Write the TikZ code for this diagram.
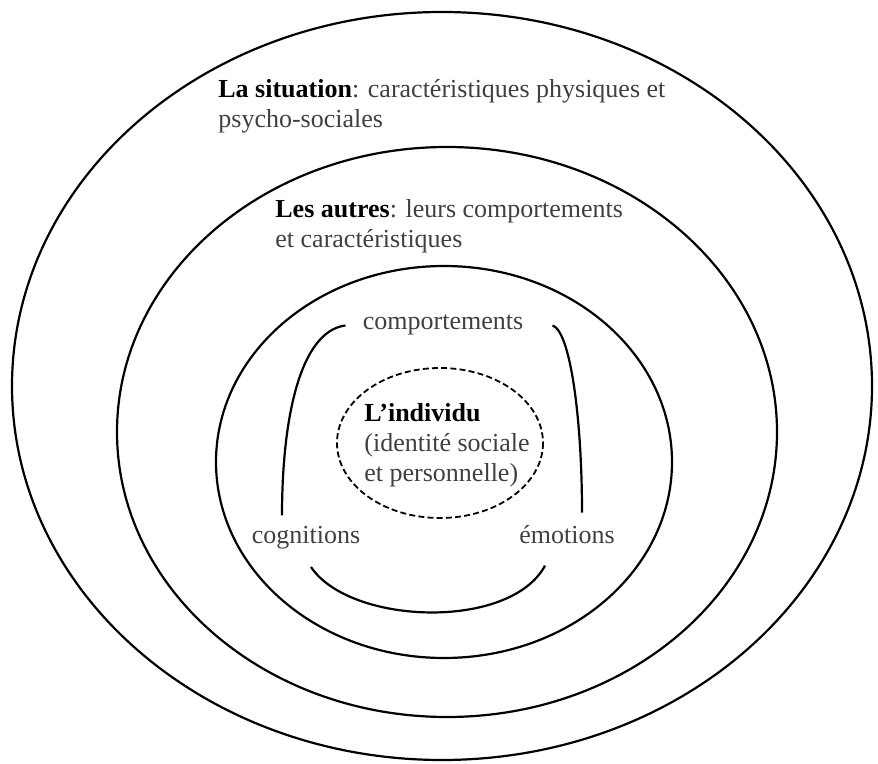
\documentclass[tikz,border=0pt]{standalone}
\usepackage{fontspec}
\setmainfont{Liberation Serif}
\usetikzlibrary{shapes.geometric,calc}

\begin{document}
\begin{tikzpicture}[x=0.5pt,y=-0.5pt,
  ring/.style={line width=1.1pt},
  lbl/.style={inner sep=0pt,align=left,text=black!75,font=\fontsize{13}{15}\selectfont}]
\useasboundingbox (0,0) rectangle (878,764);
\draw[ring] (442,386) ellipse [x radius=430,y radius=374];
\draw[ring] (447,432) ellipse [x radius=330,y radius=285];
\draw[ring] (444,462) ellipse [x radius=228,y radius=196];
\draw[line width=0.9pt,dash pattern=on 3pt off 1.6pt] (440,443) ellipse [x radius=103,y radius=75];
\node[lbl,anchor=base west] (sit) at (218,128) {\textcolor{black}{\bfseries La situation}: caractéristiques physiques et\\psycho-sociales};
\node[lbl,anchor=base west] (autres) at (275,248) {\textcolor{black}{\bfseries Les autres}: leurs comportements\\et caractéristiques};
\node[lbl,anchor=base west] (indiv) at (364,481) {\textcolor{black}{\bfseries L’individu}\\(identité sociale\\et personnelle)};
\node[lbl,anchor=base] (comp) at (443,330) {comportements};
\node[lbl,anchor=base] (cog) at (306,543) {cognitions};
\node[lbl,anchor=base] (emo) at (567,543) {émotions};
\draw[ring] ($(comp.west)+(-17,0)$) .. controls +(-46,6) and +(0,-95) .. ($(cog.north)+(-24,-10)$);
\draw[ring] ($(comp.east)+(29,0)$) .. controls +(18,6) and +(0,-93) .. ($(emo.north)+(15,-12)$);
\draw[ring] ($(cog.south)+(5,18)$) .. controls +(39,58) and +(-35,65) .. ($(emo.south)+(-22,22)$);
\end{tikzpicture}
\end{document}
